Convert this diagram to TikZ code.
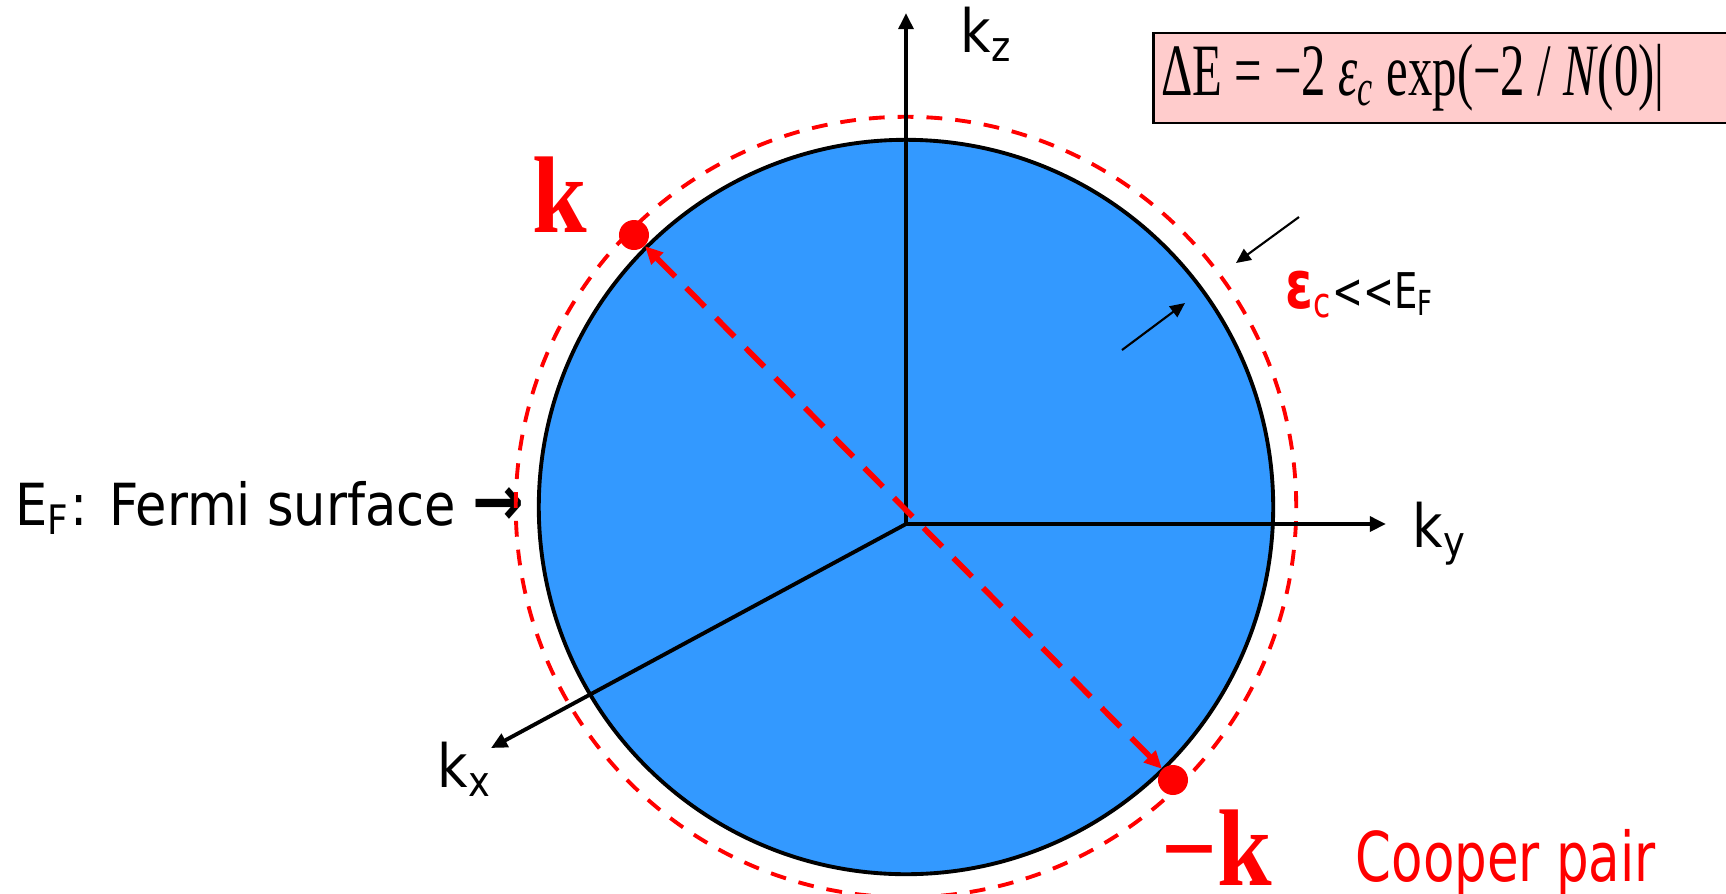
\documentclass[tikz,border=0pt]{standalone}
\usepackage{fontspec}
\usepackage{tikz}
\usetikzlibrary{arrows.meta}
\setmainfont{DejaVu Sans}
\newfontfamily\labelfont[FakeStretch=0.88]{DejaVu Sans}
\newfontfamily\pairfont[FakeStretch=0.75]{DejaVu Sans}
\newfontfamily\eqfont[FakeStretch=0.66]{Liberation Serif}
\newfontfamily\wavefont[FakeStretch=0.9]{Liberation Serif}
\definecolor{fermi}{HTML}{3399FF}
\definecolor{pair}{HTML}{FF0000}
\definecolor{eqwash}{HTML}{FFCCCC}

\begin{document}
\begin{tikzpicture}[
      x=0.01cm, y=-0.01cm,
      axis/.style={-{Triangle[length=4.6pt,width=4.2pt]}, line width=1.1pt},
      shell/.style={-{Triangle[length=4.2pt,width=3.8pt]}, line width=0.6pt},
      pairline/.style={{Triangle[length=5pt,width=4.6pt]}-{Triangle[length=5pt,width=4.6pt]},
                       draw=pair, line width=1.6pt, dash pattern=on 7.5pt off 4.5pt},
      dot/.style={circle, fill=pair, minimum size=0.3cm, inner sep=0pt},
      lbl/.style={font=\labelfont\fontsize{17}{20}\selectfont, inner sep=0pt, anchor=base west},
      wave/.style={font=\wavefont\bfseries\fontsize{31}{34}\selectfont, text=pair,
                   inner sep=0pt, anchor=base west},
      eqbox/.style={draw, line width=0.8pt, fill=eqwash, anchor=base west,
                    inner xsep=0.08cm, inner ysep=0pt, text height=0.62cm, text depth=0.28cm,
                    font=\eqfont\fontsize{21}{24}\selectfont}
  ]
    \useasboundingbox (0,0) rectangle (1726,893);
    \clip (0,0) rectangle (1726,893);
    % Fermi sphere and shell
    \fill[fermi] (906,507) circle[radius=3.67cm];
    \draw[line width=1.1pt] (906,507) circle[radius=3.67cm];
    \node[lbl, font=\labelfont\fontsize{16.5}{19}\selectfont] (fermilbl) at (15,525)
      {E\textsubscript{F}: Fermi surface {\fontsize{20}{20}\selectfont\bfseries →}};
    \draw[draw=pair, line width=1.1pt, dash pattern=on 4.5pt off 3.7pt]
      (906,507) circle[radius=3.9cm];
    % axes
    \coordinate (O) at (906,524);
    \coordinate (zend) at (906,13);
    \coordinate (yend) at (1386,524);
    \coordinate (xend) at (491,748);
    \draw[axis] (O) -- (zend);
    \draw[axis] (O) -- (yend);
    \draw[axis] (O) -- (xend);
    \node[lbl] (kz) at (960,52) {k\textsubscript{z}};
    \node[lbl] (ky) at (1412,547) {k\textsubscript{y}};
    \node[lbl] (kx) at (437,787) {k\textsubscript{x}};
    % the pair
    \node[dot] (kdot) at (634,235) {};
    \node[dot] (mkdot) at (1173,780) {};
    \draw[pairline] (kdot) -- (mkdot);
    \node[wave] (klbl) at (532,232) {k};
    \node[wave] (mklbl) at (1161,885) {−k};
    \node[lbl, font=\pairfont\fontsize{19.5}{22}\selectfont, text=pair] (cooper) at (1355,881)
      {Cooper pair};
    % shell width
    \coordinate (outtail) at (1299,217);
    \coordinate (outtip) at (1236,263);
    \coordinate (intail) at (1122,350);
    \coordinate (intip) at (1185,303);
    \draw[shell] (outtail) -- (outtip);
    \draw[shell] (intail) -- (intip);
    \node[lbl, font=\pairfont\fontsize{14}{17}\selectfont] (cutoff) at (1285,308)
      {\textcolor{pair}{{\fontsize{19}{19}\selectfont\bfseries ε}{\fontsize{17}{17}\selectfont\textsubscript{c}}}<<E\textsubscript{F}};
    % binding energy
    \node[eqbox] (gapeq) at (1152,95)
      {ΔE = −2 \textit{ε\textsubscript{c}} exp(−2 / \textit{N}(0)|\hspace*{3cm}};
  \end{tikzpicture}
\end{document}
